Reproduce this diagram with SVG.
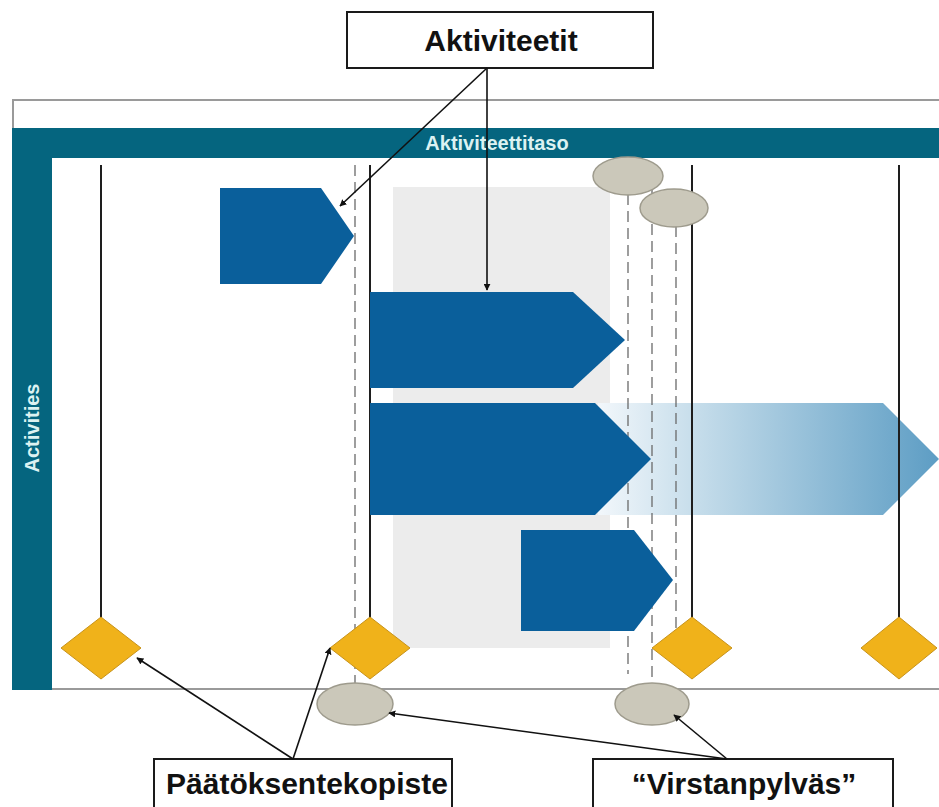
<svg xmlns="http://www.w3.org/2000/svg" width="939" height="807" viewBox="0 0 939 807">
  <style>
    .teal { fill: #05657f; }
    .frame { fill: none; stroke: #9a9a9a; stroke-width: 2; }
    .phase { stroke: #1e1e1e; stroke-width: 2; }
    .dash { stroke: #6a6a6a; stroke-width: 1.3; stroke-dasharray: 11 6; }
    .act { fill: #0a5f9b; }
    .gate { fill: #f0b21a; stroke: #c8931a; stroke-width: 1; }
    .mile { fill: #cbc8ba; stroke: #9e9b8d; stroke-width: 1.5; }
    .label { fill: #ffffff; stroke: #1a1a1a; stroke-width: 2; }
    .label-text { font-family: "Liberation Sans", Arial, sans-serif; font-weight: bold; font-size: 30px; fill: #111111; text-anchor: middle; }
    .bar-text { font-family: "Liberation Sans", Arial, sans-serif; font-weight: bold; font-size: 20px; fill: #dcf2f2; text-anchor: middle; }
    .conn { stroke: #111111; stroke-width: 1.6; fill: none; marker-end: url(#head); }
  </style>
  <defs>
    <marker id="head" viewBox="0 0 10 10" refX="9" refY="5" markerWidth="7" markerHeight="7" markerUnits="userSpaceOnUse" orient="auto">
      <path d="M0,0 L10,5 L0,10 z" fill="#111111"/>
    </marker>
    <linearGradient id="fade" x1="598" y1="0" x2="939" y2="0" gradientUnits="userSpaceOnUse">
      <stop offset="0" stop-color="#f2f7fb"/>
      <stop offset="0.3" stop-color="#c4dcea"/>
      <stop offset="1" stop-color="#5d9dc4"/>
    </linearGradient>
  </defs>

  <rect width="939" height="807" fill="#ffffff"/>

  <!-- swimlane frame -->
  <g id="lane">
    <path class="frame" d="M940,100 H13 V689 H940"/>
    <rect class="teal" x="12" y="128" width="928" height="30"/>
    <rect class="teal" x="12" y="128" width="40" height="562"/>
    <text class="bar-text" x="497" y="150">Aktiviteettitaso</text>
    <text class="bar-text" transform="translate(39,428) rotate(-90)">Activities</text>
  </g>

  <!-- shaded period -->
  <rect id="period" x="393" y="187" width="217" height="461" fill="#ececec"/>

  <!-- continuing activity -->
  <g id="activity-continuing">
    <polygon points="598,403 883,403 939,459 883,515 598,515" fill="url(#fade)"/>
  </g>

  <!-- phase lines -->
  <g id="phase-lines">
    <line class="phase" x1="101" y1="165" x2="101" y2="618"/>
    <line class="phase" x1="370" y1="165" x2="370" y2="618"/>
    <line class="phase" x1="692" y1="165" x2="692" y2="618"/>
    <line class="phase" x1="899" y1="165" x2="899" y2="618"/>
    <line class="dash" x1="355" y1="165" x2="355" y2="684"/>
    <line class="dash" x1="628" y1="194" x2="628" y2="674"/>
    <line class="dash" x1="652" y1="190" x2="652" y2="684"/>
    <line class="dash" x1="676" y1="226" x2="676" y2="628"/>
  </g>

  <!-- activities -->
  <g id="activity-1"><polygon class="act" points="220,188 321,188 354,236 321,284 220,284"/></g>
  <g id="activity-2"><polygon class="act" points="370,292 573,292 625,340 573,388 370,388"/></g>
  <g id="activity-3"><polygon class="act" points="370,403 595,403 651,459 595,515 370,515"/></g>
  <g id="activity-4"><polygon class="act" points="521,530 634,530 673,580 634,631 521,631"/></g>

  <!-- decision points -->
  <g id="gate-1"><polygon class="gate" points="101,617 141,648 101,679 61,648"/></g>
  <g id="gate-2"><polygon class="gate" points="370,617 410,648 370,679 330,648"/></g>
  <g id="gate-3"><polygon class="gate" points="692,617 732,648 692,679 652,648"/></g>
  <g id="gate-4"><polygon class="gate" points="899,617 937,648 899,679 861,648"/></g>

  <!-- milestones -->
  <g id="milestone-1"><ellipse class="mile" cx="628" cy="176" rx="35" ry="19"/></g>
  <g id="milestone-2"><ellipse class="mile" cx="674" cy="208" rx="34" ry="19"/></g>
  <g id="milestone-3"><ellipse class="mile" cx="355" cy="704" rx="38" ry="21"/></g>
  <g id="milestone-4"><ellipse class="mile" cx="652" cy="704" rx="37" ry="21"/></g>

  <!-- callout boxes -->
  <g id="label-aktiviteetit">
    <rect class="label" x="347" y="12" width="306" height="56"/>
    <text class="label-text" x="501" y="51">Aktiviteetit</text>
  </g>
  <g id="label-paatoksentekopiste">
    <rect class="label" x="154" y="759" width="298" height="70"/>
    <text class="label-text" x="307" y="794">Päätöksentekopiste</text>
  </g>
  <g id="label-virstanpylvas">
    <rect class="label" x="593" y="759" width="300" height="70"/>
    <text class="label-text" x="744" y="794">“Virstanpylväs”</text>
  </g>

  <!-- callout connectors -->
  <g id="connectors">
    <line class="conn" x1="487" y1="68" x2="340" y2="206"/>
    <line class="conn" x1="487" y1="68" x2="487" y2="290"/>
    <line class="conn" x1="293" y1="759" x2="137" y2="658"/>
    <line class="conn" x1="293" y1="759" x2="330" y2="648"/>
    <line class="conn" x1="727" y1="759" x2="389" y2="713"/>
    <line class="conn" x1="727" y1="759" x2="674" y2="715"/>
  </g>
</svg>
